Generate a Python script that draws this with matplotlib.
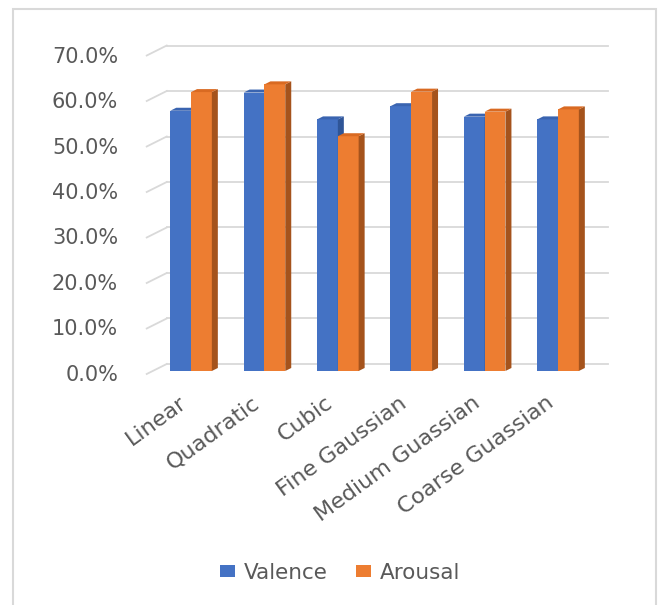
import matplotlib.pyplot as plt
from matplotlib.patches import Polygon, Rectangle, Patch
from matplotlib.transforms import ScaledTranslation

# Accuracy of each regression model
models = ['Linear', 'Quadratic', 'Cubic', 'Fine Gaussian', 'Medium Guassian', 'Coarse Guassian']
valence = [57.2, 61.2, 55.3, 58.2, 55.9, 55.3]
arousal = [61.3, 63.0, 51.6, 61.4, 57.0, 57.5]
yticks = [0, 10, 20, 30, 40, 50, 60, 70]
ytick_labels = ['%.1f%%' % t for t in yticks]

blue = ['#4472C4', '#2F5597', '#3A64B0']     # front, side, top
orange = ['#ED7D31', '#A5531C', '#D96A22']
grid_color = '#D9D9D9'
text_color = '#595959'

fig = plt.figure(figsize=(6.6, 6.05), dpi=100)
ax = fig.add_axes([0.2314, 0.3868, 0.6686, 0.5264])
x0, x1 = -0.522, 5.49
ax.set_xlim(x0, x1)
ax.set_ylim(0, 70)

# one category step is 73.4 px, 10% is 45.5 px -> pixel depth offsets in data units
px_x = 1 / 73.4
px_y = 70 / 318.5
bar_w = 20.8 * px_x
bar_dx, bar_dy = 6 * px_x, 3 * px_y          # depth of each bar
wall_dx, wall_dy = 14 * px_x, 7 * px_y       # back wall behind the bars
front_dx, front_dy = -6 * px_x, -3 * px_y    # front edge of the floor

# gridlines on the back wall plus the short depth lines on the left wall
for t in yticks:
    ax.plot([x0 + wall_dx, x1 + wall_dx], [t + wall_dy, t + wall_dy],
            color=grid_color, lw=1.3, zorder=1, clip_on=False)
    ax.plot([x0 + front_dx, x0 + wall_dx], [t + front_dy, t + wall_dy],
            color=grid_color, lw=1.3, zorder=1, clip_on=False)


def draw_bar(left, h, colors):
    right = left + bar_w
    ax.add_patch(Rectangle((left, 0), bar_w, h, facecolor=colors[0],
                           edgecolor='none', zorder=3, clip_on=False))
    side = [(right, 0), (right + bar_dx, bar_dy), (right + bar_dx, h + bar_dy), (right, h)]
    ax.add_patch(Polygon(side, closed=True, facecolor=colors[1],
                         edgecolor='none', zorder=3, clip_on=False))
    top = [(left, h), (right, h), (right + bar_dx, h + bar_dy), (left + bar_dx, h + bar_dy)]
    ax.add_patch(Polygon(top, closed=True, facecolor=colors[2],
                         edgecolor='none', zorder=3, clip_on=False))


for i in range(len(models)):
    draw_bar(i - bar_w, valence[i], blue)
    draw_bar(i, arousal[i], orange)

for s in ax.spines.values():
    s.set_visible(False)

ax.set_yticks(yticks)
ax.set_yticklabels(ytick_labels, fontsize=15, color=text_color)
ax.tick_params(axis='y', length=0, pad=25)
down = ScaledTranslation(0, -2 / 100, fig.dpi_scale_trans)
for lab in ax.get_yticklabels():
    lab.set_transform(lab.get_transform() + down)

ax.set_xticks(range(len(models)))
ax.set_xticklabels(models, fontsize=16, color=text_color, rotation=36,
                   ha='right', va='center', rotation_mode='anchor')
ax.tick_params(axis='x', length=0, pad=21.5)
shift = ScaledTranslation(-7 / 100, 0, fig.dpi_scale_trans)
for lab in ax.get_xticklabels():
    lab.set_transform(lab.get_transform() + shift)

handles = [Patch(facecolor=blue[0], label='Valence'),
           Patch(facecolor=orange[0], label='Arousal')]
fig.legend(handles=handles, loc='center', bbox_to_anchor=(340 / 660, 1 - 573 / 605),
           ncol=2, frameon=False, fontsize=15.5, labelcolor=text_color,
           handlelength=0.7, handleheight=0.47, handletextpad=0.42, columnspacing=1.3)

# light outline around the chart area
fig.add_artist(Rectangle((13 / 660, -0.01), 643 / 660, 1.01 - 9 / 605,
                         transform=fig.transFigure, fill=False,
                         edgecolor=grid_color, lw=1.5))

fig.savefig('out.png', dpi=100)
